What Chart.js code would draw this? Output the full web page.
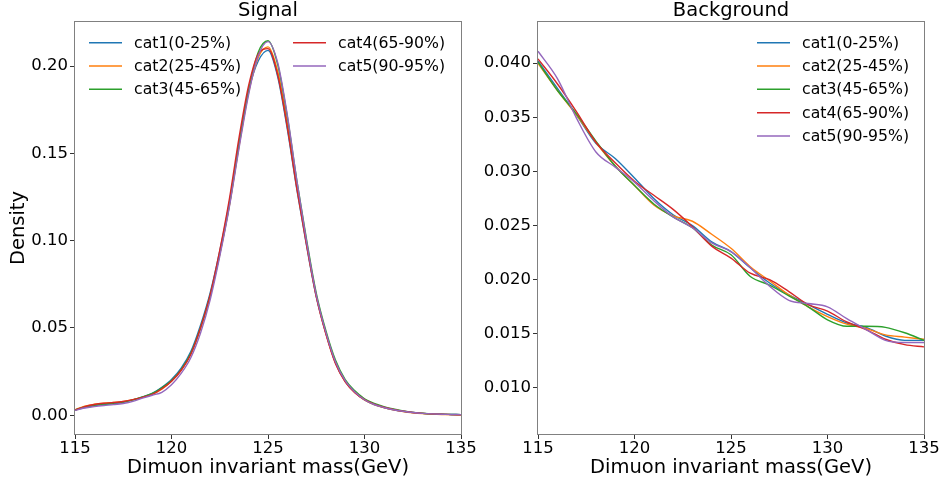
<!DOCTYPE html>
<html>
<head>
<meta charset="utf-8">
<title>Signal / Background</title>
<script src="https://cdn.jsdelivr.net/npm/chart.js@4.4.1/dist/chart.umd.min.js"></script>
<style>
  html, body { margin: 0; padding: 0; background: #fff; }
  #wrap { position: relative; width: 942px; height: 487px; }
  #wrap canvas { position: absolute; left: 0; top: 0; }
</style>
</head>
<body>
<div id="wrap">
  <canvas id="signalChart" width="942" height="487"></canvas>
  <canvas id="bkgChart" width="942" height="487"></canvas>
</div>
<script>
const categories = ['cat1(0-25%)', 'cat2(25-45%)', 'cat3(45-65%)', 'cat4(65-90%)', 'cat5(90-95%)'];
const colors = ['#1f77b4', '#ff7f0e', '#2ca02c', '#d62728', '#9467bd'];

// signal density, sampled every 0.5 GeV
const sigMass = [115, 115.5, 116, 116.5, 117, 117.5, 118, 118.5, 119, 119.5,
  120, 120.5, 121, 121.5, 122, 122.5, 123, 123.5, 124, 124.5,
  125, 125.5, 126, 126.5, 127, 127.5, 128, 128.5, 129, 129.5,
  130, 130.5, 131, 131.5, 132, 132.5, 133, 133.5, 134, 134.5, 135];
const sigCat1 = [0.0030, 0.0045, 0.0055, 0.0062, 0.0067, 0.0075, 0.0088, 0.0105, 0.0125, 0.0160,
  0.0205, 0.0270, 0.0365, 0.0515, 0.0700, 0.0940, 0.1220, 0.1560, 0.1860, 0.2030,
  0.2090, 0.1940, 0.1640, 0.1290, 0.0970, 0.0680, 0.0470, 0.0300, 0.0195, 0.0132,
  0.0088, 0.0062, 0.0045, 0.0032, 0.0023, 0.0016, 0.0011, 0.0008, 0.0006, 0.0005, 0.0004];
const sigCat2 = [0.0032, 0.0052, 0.0063, 0.0070, 0.0074, 0.0080, 0.0090, 0.0103, 0.0120, 0.0150,
  0.0195, 0.0258, 0.0350, 0.0495, 0.0680, 0.0920, 0.1200, 0.1540, 0.1850, 0.2050,
  0.2110, 0.1970, 0.1670, 0.1310, 0.0985, 0.0685, 0.0470, 0.0300, 0.0195, 0.0130,
  0.0088, 0.0062, 0.0044, 0.0031, 0.0022, 0.0015, 0.0010, 0.0007, 0.0005, 0.0004, 0.0003];
const sigCat3 = [0.0030, 0.0048, 0.0058, 0.0064, 0.0069, 0.0076, 0.0088, 0.0105, 0.0125, 0.0158,
  0.0200, 0.0262, 0.0355, 0.0500, 0.0685, 0.0925, 0.1205, 0.1550, 0.1860, 0.2080,
  0.2145, 0.2010, 0.1710, 0.1340, 0.1005, 0.0700, 0.0485, 0.0315, 0.0205, 0.0140,
  0.0095, 0.0068, 0.0050, 0.0036, 0.0025, 0.0017, 0.0012, 0.0008, 0.0006, 0.0005, 0.0004];
const sigCat4 = [0.0030, 0.0050, 0.0062, 0.0069, 0.0073, 0.0079, 0.0090, 0.0103, 0.0120, 0.0152,
  0.0195, 0.0258, 0.0350, 0.0500, 0.0690, 0.0945, 0.1240, 0.1590, 0.1890, 0.2070,
  0.2100, 0.1950, 0.1650, 0.1295, 0.0975, 0.0680, 0.0465, 0.0295, 0.0192, 0.0130,
  0.0090, 0.0064, 0.0046, 0.0033, 0.0023, 0.0016, 0.0011, 0.0008, 0.0006, 0.0004, 0.0003];
const sigCat5 = [0.0028, 0.0042, 0.0050, 0.0056, 0.0061, 0.0068, 0.0080, 0.0098, 0.0115, 0.0132,
  0.0175, 0.0240, 0.0330, 0.0470, 0.0660, 0.0910, 0.1195, 0.1530, 0.1840, 0.2060,
  0.2140, 0.2020, 0.1720, 0.1340, 0.0995, 0.0690, 0.0475, 0.0305, 0.0198, 0.0133,
  0.0089, 0.0062, 0.0045, 0.0032, 0.0023, 0.0016, 0.0011, 0.0008, 0.0006, 0.0005, 0.0004];

// background density, every 1 GeV
const bkgMass = [115, 116, 117, 118, 119, 120, 121, 122, 123, 124, 125,
  126, 127, 128, 129, 130, 131, 132, 133, 134, 135];
const bkgCat1 = [0.0402, 0.0377, 0.0352, 0.0326, 0.0312, 0.0294, 0.0275, 0.0260, 0.0250, 0.0235, 0.0226,
  0.0211, 0.0197, 0.0186, 0.0177, 0.0168, 0.0160, 0.0156, 0.0148, 0.0144, 0.0144];
const bkgCat2 = [0.0400, 0.0375, 0.0352, 0.0327, 0.0305, 0.0287, 0.0269, 0.0259, 0.0254, 0.0242, 0.0229,
  0.0212, 0.0199, 0.0186, 0.0175, 0.0166, 0.0159, 0.0155, 0.0149, 0.0147, 0.0145];
const bkgCat3 = [0.0401, 0.0375, 0.0353, 0.0328, 0.0305, 0.0287, 0.0270, 0.0258, 0.0248, 0.0232, 0.0223,
  0.0203, 0.0195, 0.0185, 0.0175, 0.0163, 0.0157, 0.0157, 0.0156, 0.0151, 0.0144];
const bkgCat4 = [0.0404, 0.0381, 0.0355, 0.0327, 0.0308, 0.0291, 0.0278, 0.0265, 0.0249, 0.0231, 0.0220,
  0.0206, 0.0200, 0.0189, 0.0177, 0.0171, 0.0161, 0.0154, 0.0145, 0.0140, 0.0138];
const bkgCat5 = [0.0411, 0.0386, 0.0349, 0.0318, 0.0304, 0.0290, 0.0273, 0.0258, 0.0248, 0.0234, 0.0226,
  0.0211, 0.0194, 0.0181, 0.0178, 0.0175, 0.0164, 0.0154, 0.0144, 0.0142, 0.0142];

const xTicks = [115, 120, 125, 130, 135];
const sigYTicks = [0.00, 0.05, 0.10, 0.15, 0.20];
const bkgYTicks = [0.010, 0.015, 0.020, 0.025, 0.030, 0.035, 0.040];

const FONT = '"DejaVu Sans", sans-serif';
Chart.defaults.font.family = FONT;
Chart.defaults.color = '#000';

// box round the plot area, like matplotlib spines
const framePlugin = {
  id: 'frame',
  afterDraw(chart) {
    const a = chart.chartArea, ctx = chart.ctx;
    ctx.save();
    ctx.strokeStyle = '#808080';
    ctx.lineWidth = 1;
    ctx.strokeRect(Math.round(a.left) - 0.5, Math.round(a.top) - 0.5,
      Math.round(a.right - a.left) + 1, Math.round(a.bottom - a.top) + 1);
    ctx.restore();
  }
};

// legend drawn inside the plot area, filled column by column
const innerLegend = {
  id: 'innerLegend',
  afterDraw(chart, args, opts) {
    const a = chart.chartArea, ctx = chart.ctx;
    ctx.save();
    ctx.font = '15.7px ' + FONT;
    ctx.textBaseline = 'middle';
    ctx.textAlign = 'left';
    chart.data.datasets.forEach((ds, i) => {
      const col = Math.floor(i / opts.rows), row = i % opts.rows;
      const x = a.left + opts.dx + col * opts.colGap;
      const y = a.top + opts.dy + row * opts.rowGap;
      ctx.strokeStyle = ds.borderColor;
      ctx.lineWidth = 1.5;
      ctx.beginPath();
      ctx.moveTo(x, y);
      ctx.lineTo(x + 33, y);
      ctx.stroke();
      ctx.fillStyle = '#000';
      ctx.fillText(ds.label, x + 45, y + 1);
    });
    ctx.restore();
  }
};

function makeChart(id, cfg) {
  const datasets = cfg.series.map((ys, i) => ({
    label: categories[i],
    data: cfg.mass.map((m, k) => ({ x: m, y: ys[k] })),
    borderColor: colors[i],
    backgroundColor: colors[i],
    borderWidth: 1.4,
    pointRadius: 0,
    cubicInterpolationMode: 'monotone',
    order: categories.length - i
  }));

  return new Chart(document.getElementById(id), {
    type: 'line',
    data: { datasets },
    plugins: [framePlugin, innerLegend],
    options: {
      responsive: false,
      animation: false,
      events: [],
      layout: { padding: cfg.padding },
      plugins: {
        legend: { display: false },
        tooltip: { enabled: false },
        title: {
          display: true,
          text: cfg.title,
          fullSize: false,
          color: '#000',
          font: { size: 19.5, weight: 'normal', lineHeight: 1.13 },
          padding: { top: 0, bottom: 0 }
        },
        innerLegend: cfg.legend
      },
      scales: {
        x: {
          type: 'linear',
          min: 115,
          max: 135,
          afterBuildTicks: s => { s.ticks = xTicks.map(v => ({ value: v })); },
          afterFit: s => { s.height = 53; s.paddingLeft = 0; s.paddingRight = 0; },
          border: { display: false },
          grid: { drawOnChartArea: false, drawTicks: true, tickLength: 5, tickColor: '#333' },
          ticks: { color: '#000', font: { size: 16.5, lineHeight: 1.0 }, padding: 1, maxRotation: 0, autoSkip: false },
          title: {
            display: true,
            text: 'Dimuon invariant mass(GeV)',
            color: '#000',
            font: { size: 19.5 },
            padding: { top: 0, bottom: 7.3 }
          }
        },
        y: {
          type: 'linear',
          min: cfg.yMin,
          max: cfg.yMax,
          afterBuildTicks: s => { s.ticks = cfg.yTicks.map(v => ({ value: v })); },
          afterFit: s => { s.width = 75; s.paddingTop = 0; s.paddingBottom = 0; },
          border: { display: false },
          grid: { drawOnChartArea: false, drawTicks: true, tickLength: 5, tickColor: '#333' },
          ticks: {
            color: '#000',
            font: { size: 16.5 },
            padding: 2,
            autoSkip: false,
            callback: v => v.toFixed(cfg.decimals)
          },
          title: {
            display: !!cfg.yTitle,
            text: cfg.yTitle || '',
            color: '#000',
            font: { size: 19.5 },
            padding: { top: 7.3, bottom: 0 }
          }
        }
      }
    }
  });
}

makeChart('signalChart', {
  title: 'Signal',
  mass: sigMass,
  series: [sigCat1, sigCat2, sigCat3, sigCat4, sigCat5],
  yMin: -0.0107,
  yMax: 0.2252,
  yTicks: sigYTicks,
  decimals: 2,
  yTitle: 'Density',
  padding: { left: 0, right: 481, top: 0, bottom: 0 },
  legend: { dx: 14, dy: 20.7, rows: 3, colGap: 204, rowGap: 23.3 }
});

makeChart('bkgChart', {
  title: 'Background',
  mass: bkgMass,
  series: [bkgCat1, bkgCat2, bkgCat3, bkgCat4, bkgCat5],
  yMin: 0.00575,
  yMax: 0.0438,
  yTicks: bkgYTicks,
  decimals: 3,
  yTitle: '',
  padding: { left: 463, right: 18, top: 0, bottom: 0 },
  legend: { dx: 219, dy: 20.7, rows: 5, colGap: 0, rowGap: 23.3 }
});
</script>
</body>
</html>
